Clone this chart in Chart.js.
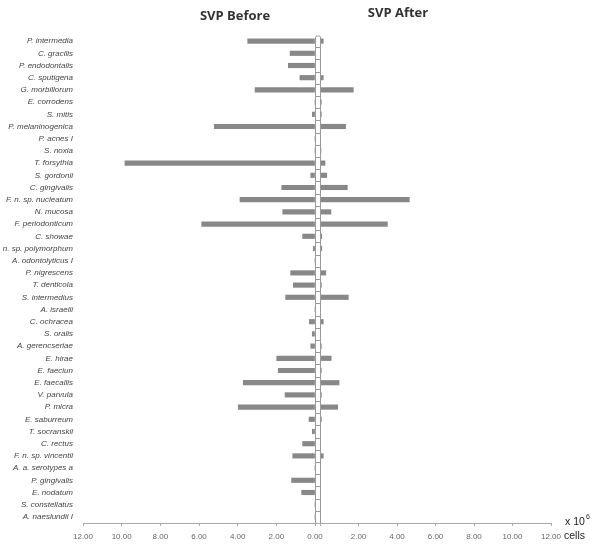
<!DOCTYPE html>
<html>
<head>
<meta charset="utf-8">
<script src="https://cdn.jsdelivr.net/npm/chart.js@4/dist/chart.umd.min.js"></script>
<style>
    html, body { margin: 0; padding: 0; background: #fff; }
    #wrap { width: 596px; height: 547px; position: relative; }
</style>
</head>
<body>
<div id="wrap"><canvas id="svp-chart"></canvas></div>
<script>
const species = [
    'P. intermedia', 'C. gracilis', 'P. endodontalis', 'C. sputigena', 'G. morbillorum',
    'E. corrodens', 'S. mitis', 'P. melaninogenica', 'P. acnes I', 'S. noxia',
    'T. forsythia', 'S. gordonii', 'C. gingivalis', 'F. n. sp. nucleatum', 'N. mucosa',
    'F. periodonticum', 'C. showae', 'F. n. sp. polymorphum', 'A. odontolyticus I', 'P. nigrescens',
    'T. denticola', 'S. intermedius', 'A. israelii', 'C. ochracea', 'S. oralis',
    'A. gerencseriae', 'E. hirae', 'E. faeciun', 'E. faecallis', 'V. parvula',
    'P. micra', 'E. saburreum', 'T. socranskii', 'C. rectus', 'F. n. sp. vincentii',
    'A. a. serotypes a', 'P. gingivalis', 'E. nodatum', 'S. constellatus', 'A. naeslundii I'
];

// x 10^6 cells
const svpBefore = [
    3.48, 1.29, 1.38, 0.78, 3.10,
    0, 0.14, 5.21, 0, 0,
    9.83, 0.22, 1.72, 3.88, 1.67,
    5.86, 0.64, 0.09, 0, 1.26,
    1.12, 1.52, 0, 0.29, 0.14,
    0.22, 1.98, 1.90, 3.71, 1.55,
    3.97, 0.31, 0.14, 0.64, 1.15,
    0, 1.21, 0.69, 0, 0
];
const svpAfter = [
    0.17, 0, 0, 0.17, 1.73,
    0.07, 0.07, 1.33, 0, 0.05,
    0.26, 0.35, 1.42, 4.64, 0.57,
    3.50, 0.09, 0.09, 0, 0.30,
    0.07, 1.47, 0, 0.17, 0,
    0.07, 0.58, 0.07, 0.99, 0.07,
    0.92, 0.07, 0, 0.03, 0.17,
    0, 0, 0, 0, 0
];
const axisMax = 12;
const axisStep = 2;

const barColor = '#888888';
const lineColor = '#aaaaaa';

// white strip between the two halves, with a divider per row
const centerStrip = {
    id: 'centerStrip',
    afterDatasetsDraw(chart) {
        const { ctx, scales } = chart;
        const left = Math.round(scales.xL.right) + 0.5;
        const right = Math.round(scales.xR.left) + 0.5;
        const top = scales.y.top + 1;
        const bottom = scales.y.bottom;
        const band = (scales.y.bottom - scales.y.top) / species.length;
        ctx.save();
        ctx.strokeStyle = '#9a9a9a';
        ctx.lineWidth = 1;
        ctx.fillStyle = '#fff';
        ctx.fillRect(left, top, right - left, bottom - top);
        ctx.beginPath();
        ctx.moveTo(left, bottom);
        ctx.lineTo(left, top + 1);
        ctx.quadraticCurveTo(left, top, left + 2, top);
        ctx.lineTo(right - 2, top);
        ctx.quadraticCurveTo(right, top, right, top + 1);
        ctx.lineTo(right, bottom);
        for (let i = 1; i < species.length; i++) {
            const yy = Math.round(scales.y.top + i * band) + 0.5;
            ctx.moveTo(left, yy);
            ctx.lineTo(right, yy);
        }
        ctx.stroke();
        ctx.restore();
    }
};

const extraText = {
    id: 'extraText',
    afterDraw(chart) {
        const { ctx } = chart;
        ctx.save();
        ctx.fillStyle = '#333';
        ctx.font = 'bold 13px "Open Sans"';
        ctx.textAlign = 'center';
        ctx.textBaseline = 'middle';
        ctx.fillText('SVP Before', 235, 16);
        ctx.fillText('SVP After', 398, 13);

        ctx.fillStyle = '#222';
        ctx.textAlign = 'left';
        ctx.font = '10.5px "Liberation Sans"';
        ctx.fillText('x 10', 565, 522);
        ctx.font = '7px "Liberation Sans"';
        ctx.fillText('6', 586, 517);
        ctx.font = '10.5px "Liberation Sans"';
        ctx.fillText('cells', 564, 536);
        ctx.restore();
    }
};

const fmt = (v) => Number(v).toFixed(2);

const valueAxis = (weight, reverse, hideZero) => ({
    type: 'linear',
    position: 'bottom',
    stack: 'x',
    stackWeight: weight,
    reverse,
    min: 0,
    max: axisMax,
    afterFit: (scale) => { scale.height = 24; },
    border: { display: true, color: lineColor },
    grid: { drawOnChartArea: false, drawTicks: true, tickLength: 3, color: lineColor },
    ticks: {
        stepSize: axisStep,
        autoSkip: false,
        maxRotation: 0,
        padding: 6,
        color: '#666',
        font: { family: 'Liberation Sans', size: 8 },
        callback: (v) => (hideZero && v === 0 ? '' : fmt(v))
    }
});

new Chart(document.getElementById('svp-chart'), {
    type: 'bar',
    data: {
        labels: species,
        datasets: [
            {
                label: 'SVP Before',
                data: svpBefore,
                xAxisID: 'xL',
                yAxisID: 'y',
                backgroundColor: barColor,
                barThickness: 4.5,
                grouped: false
            },
            {
                label: 'SVP After',
                data: svpAfter,
                xAxisID: 'xR',
                yAxisID: 'y',
                backgroundColor: barColor,
                barThickness: 4.5,
                grouped: false
            }
        ]
    },
    options: {
        indexAxis: 'y',
        responsive: true,
        maintainAspectRatio: false,
        animation: false,
        layout: { padding: { top: 35, right: 45, bottom: 0, left: 0 } },
        plugins: {
            legend: { display: false },
            title: { display: false },
            tooltip: { enabled: false }
        },
        scales: {
            y: {
                position: 'left',
                afterFit: (scale) => { scale.width = 83; },
                border: { display: false },
                grid: { display: false, drawTicks: false },
                ticks: {
                    autoSkip: false,
                    padding: 10,
                    color: '#444',
                    font: { family: 'Liberation Sans', size: 8, style: 'italic' }
                }
            },
            xL: valueAxis(232, true, false),
            xM: {
                type: 'linear',
                position: 'bottom',
                stack: 'x',
                stackWeight: 5,
                min: 0,
                max: 1,
                afterFit: (scale) => { scale.height = 24; },
                border: { display: true, color: lineColor },
                grid: { display: false },
                ticks: { display: false }
            },
            xR: valueAxis(231, false, true)
        }
    },
    plugins: [centerStrip, extraText]
});
</script>
</body>
</html>
